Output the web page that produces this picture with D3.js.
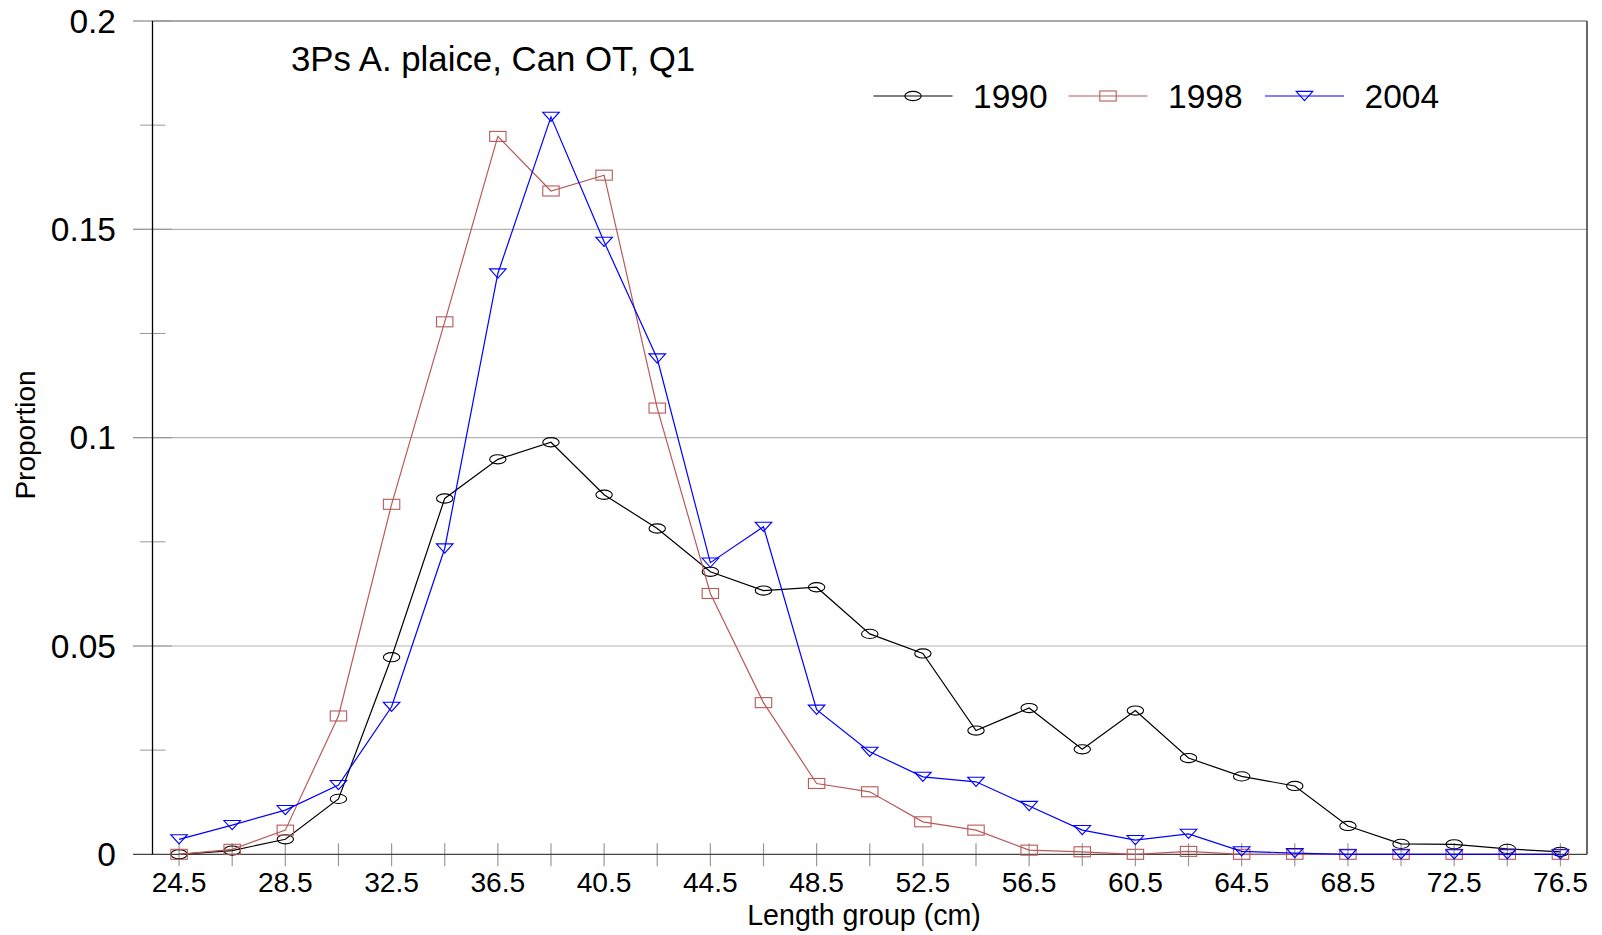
<!DOCTYPE html>
<html>
<head>
<meta charset="utf-8">
<script src="https://cdn.jsdelivr.net/npm/d3@7"></script>
<style>
  html, body { margin: 0; padding: 0; background: #fff; }
  svg { display: block; font-family: Arial, "Liberation Sans", sans-serif; }
</style>
</head>
<body>
<svg id="chart" width="1602" height="935"></svg>
<script>
// Length groups (cm)
const lengthGroups = [24.5, 26.5, 28.5, 30.5, 32.5, 34.5, 36.5, 38.5, 40.5, 42.5, 44.5, 46.5, 48.5, 50.5,
  52.5, 54.5, 56.5, 58.5, 60.5, 62.5, 64.5, 66.5, 68.5, 70.5, 72.5, 74.5, 76.5];

// Proportion at length, by survey year
const prop1990 = [0.0000, 0.0009, 0.0036, 0.0133, 0.0473, 0.0854, 0.0948, 0.0989, 0.0863, 0.0782, 0.0678,
  0.0633, 0.0641, 0.0529, 0.0482, 0.0297, 0.0351, 0.0252, 0.0345, 0.0231, 0.0187, 0.0164, 0.0068,
  0.0025, 0.0024, 0.0013, 0.0006];
const prop1998 = [0.0000, 0.0012, 0.0058, 0.0332, 0.0840, 0.1278, 0.1723, 0.1592, 0.1630, 0.1071, 0.0626,
  0.0364, 0.0170, 0.0150, 0.0078, 0.0058, 0.0010, 0.0006, 0.0000, 0.0007, 0.0000, 0.0000, 0.0000,
  0.0000, 0.0000, 0.0000, 0.0000];
const prop2004 = [0.0036, 0.0070, 0.0106, 0.0166, 0.0354, 0.0734, 0.1394, 0.1770, 0.1470, 0.1190, 0.0700,
  0.0786, 0.0347, 0.0246, 0.0186, 0.0174, 0.0116, 0.0058, 0.0034, 0.0049, 0.0007, 0.0003, 0.0000,
  0.0000, 0.0000, 0.0000, 0.0000];

const seriesNames = ["1990", "1998", "2004"];
const seriesColors = ["#000000", "#b85a5a", "#0000ff"];
const seriesShapes = ["ellipse", "rect", "triangle"];

const xTickLabels = [24.5, 28.5, 32.5, 36.5, 40.5, 44.5, 48.5, 52.5, 56.5, 60.5, 64.5, 68.5, 72.5, 76.5];
const yMajorTicks = [0, 0.05, 0.1, 0.15, 0.2];
const yMinorTicks = [0.025, 0.075, 0.125, 0.175];
const yTickText = ["0", "0.05", "0.1", "0.15", "0.2"];

const chartTitle = "3Ps A. plaice, Can OT, Q1";
const xTitle = "Length group (cm)";
const yTitle = "Proportion";

const series = seriesNames.map((name, i) => ({
  name,
  color: seriesColors[i],
  shape: seriesShapes[i],
  values: [prop1990, prop1998, prop2004][i]
}));

// plot frame
const plotLeft = 152.5, plotRight = 1587, plotTop = 21, plotBottom = 854.3;

const svg = d3.select("#chart");

const x = d3.scalePoint().domain(lengthGroups).range([plotLeft, plotRight]).padding(0.5);
const y = d3.scaleLinear().domain([0, 0.2]).range([plotBottom, plotTop]);

// horizontal grid lines (extend left of the axis as major ticks)
svg.append("g").selectAll("line").data(yMajorTicks.filter(d => d > 0)).join("line")
  .attr("x1", 133).attr("x2", plotRight)
  .attr("y1", d => y(d)).attr("y2", d => y(d))
  .attr("stroke", "#b4b4b4").attr("stroke-width", 1.2);

// minor y ticks
svg.append("g").selectAll("line").data(yMinorTicks).join("line")
  .attr("x1", 140).attr("x2", 165.5)
  .attr("y1", d => y(d)).attr("y2", d => y(d))
  .attr("stroke", "#999").attr("stroke-width", 1);

// major tick stubs, slightly darker near the axis
svg.append("g").selectAll("line").data(yMajorTicks.filter(d => d > 0)).join("line")
  .attr("x1", 133).attr("x2", 172)
  .attr("y1", d => y(d)).attr("y2", d => y(d))
  .attr("stroke", "#999").attr("stroke-width", 1.2);

// x ticks at each length group
svg.append("g").selectAll("line").data(lengthGroups).join("line")
  .attr("x1", d => x(d)).attr("x2", d => x(d))
  .attr("y1", plotBottom - 11).attr("y2", plotBottom + 12)
  .attr("stroke", "#999").attr("stroke-width", 1.2);

// frame
svg.append("line").attr("x1", plotLeft).attr("x2", plotRight).attr("y1", plotTop).attr("y2", plotTop)
  .attr("stroke", "#999").attr("stroke-width", 1.5);
svg.append("line").attr("x1", plotRight).attr("x2", plotRight).attr("y1", plotTop).attr("y2", plotBottom)
  .attr("stroke", "#444").attr("stroke-width", 1.6);
svg.append("line").attr("x1", 133).attr("x2", plotRight).attr("y1", plotBottom).attr("y2", plotBottom)
  .attr("stroke", "#444").attr("stroke-width", 1.3);
svg.append("line").attr("x1", plotLeft).attr("x2", plotLeft).attr("y1", plotTop).attr("y2", plotBottom)
  .attr("stroke", "#000").attr("stroke-width", 1.3);

// y tick labels
svg.append("g").selectAll("text").data(yMajorTicks).join("text")
  .attr("x", 116).attr("y", d => y(d))
  .attr("dy", "0.35em")
  .attr("text-anchor", "end")
  .attr("font-size", 33.5)
  .attr("fill", "#000")
  .text((d, i) => yTickText[i]);

// x tick labels
svg.append("g").selectAll("text").data(xTickLabels).join("text")
  .attr("x", d => x(d)).attr("y", 892)
  .attr("text-anchor", "middle")
  .attr("font-size", 28.2)
  .attr("fill", "#000")
  .text(d => d.toFixed(1));

// axis titles
svg.append("text").attr("x", 864).attr("y", 925)
  .attr("text-anchor", "middle").attr("font-size", 28.6).text(xTitle);
svg.append("text")
  .attr("transform", `translate(35,435) rotate(-90)`)
  .attr("text-anchor", "middle").attr("font-size", 28).text(yTitle);

// chart title inside the plot
svg.append("text").attr("x", 291).attr("y", 71)
  .attr("font-size", 34.8).text(chartTitle);

// marker drawing helper
function drawMarker(g, shape, color, cx, cy) {
  if (shape === "ellipse") {
    g.append("ellipse").attr("cx", cx).attr("cy", cy).attr("rx", 8.2).attr("ry", 4.6)
      .attr("fill", "none").attr("stroke", color).attr("stroke-width", 1.1);
  } else if (shape === "rect") {
    g.append("rect").attr("x", cx - 8.2).attr("y", cy - 5).attr("width", 16.4).attr("height", 10)
      .attr("fill", "none").attr("stroke", color).attr("stroke-width", 1.1);
  } else {
    g.append("path")
      .attr("d", `M${cx - 8.3},${cy - 4.6}L${cx + 8.3},${cy - 4.6}L${cx},${cy + 4.6}Z`)
      .attr("fill", "none").attr("stroke", color).attr("stroke-width", 1.1);
  }
}

const line = d3.line().x((d, i) => x(lengthGroups[i])).y(d => y(d));

// series lines and markers
series.forEach(s => {
  const g = svg.append("g");
  g.append("path").datum(s.values)
    .attr("d", line)
    .attr("fill", "none")
    .attr("stroke", s.color)
    .attr("stroke-width", 1.2);
  s.values.forEach((v, i) => drawMarker(g, s.shape, s.color, x(lengthGroups[i]), y(v)));
});

// legend
const legendX = [873.5, 1068.5, 1265];
const legendY = 96;
series.forEach((s, i) => {
  const g = svg.append("g");
  const x0 = legendX[i];
  g.append("line").attr("x1", x0).attr("x2", x0 + 79).attr("y1", legendY).attr("y2", legendY)
    .attr("stroke", s.color).attr("stroke-width", 1.2);
  drawMarker(g, s.shape, s.color, x0 + 39.5, legendY);
  g.append("text").attr("x", x0 + 99.5).attr("y", legendY + 12)
    .attr("font-size", 33.5).attr("fill", "#000").text(s.name);
});
</script>
</body>
</html>
